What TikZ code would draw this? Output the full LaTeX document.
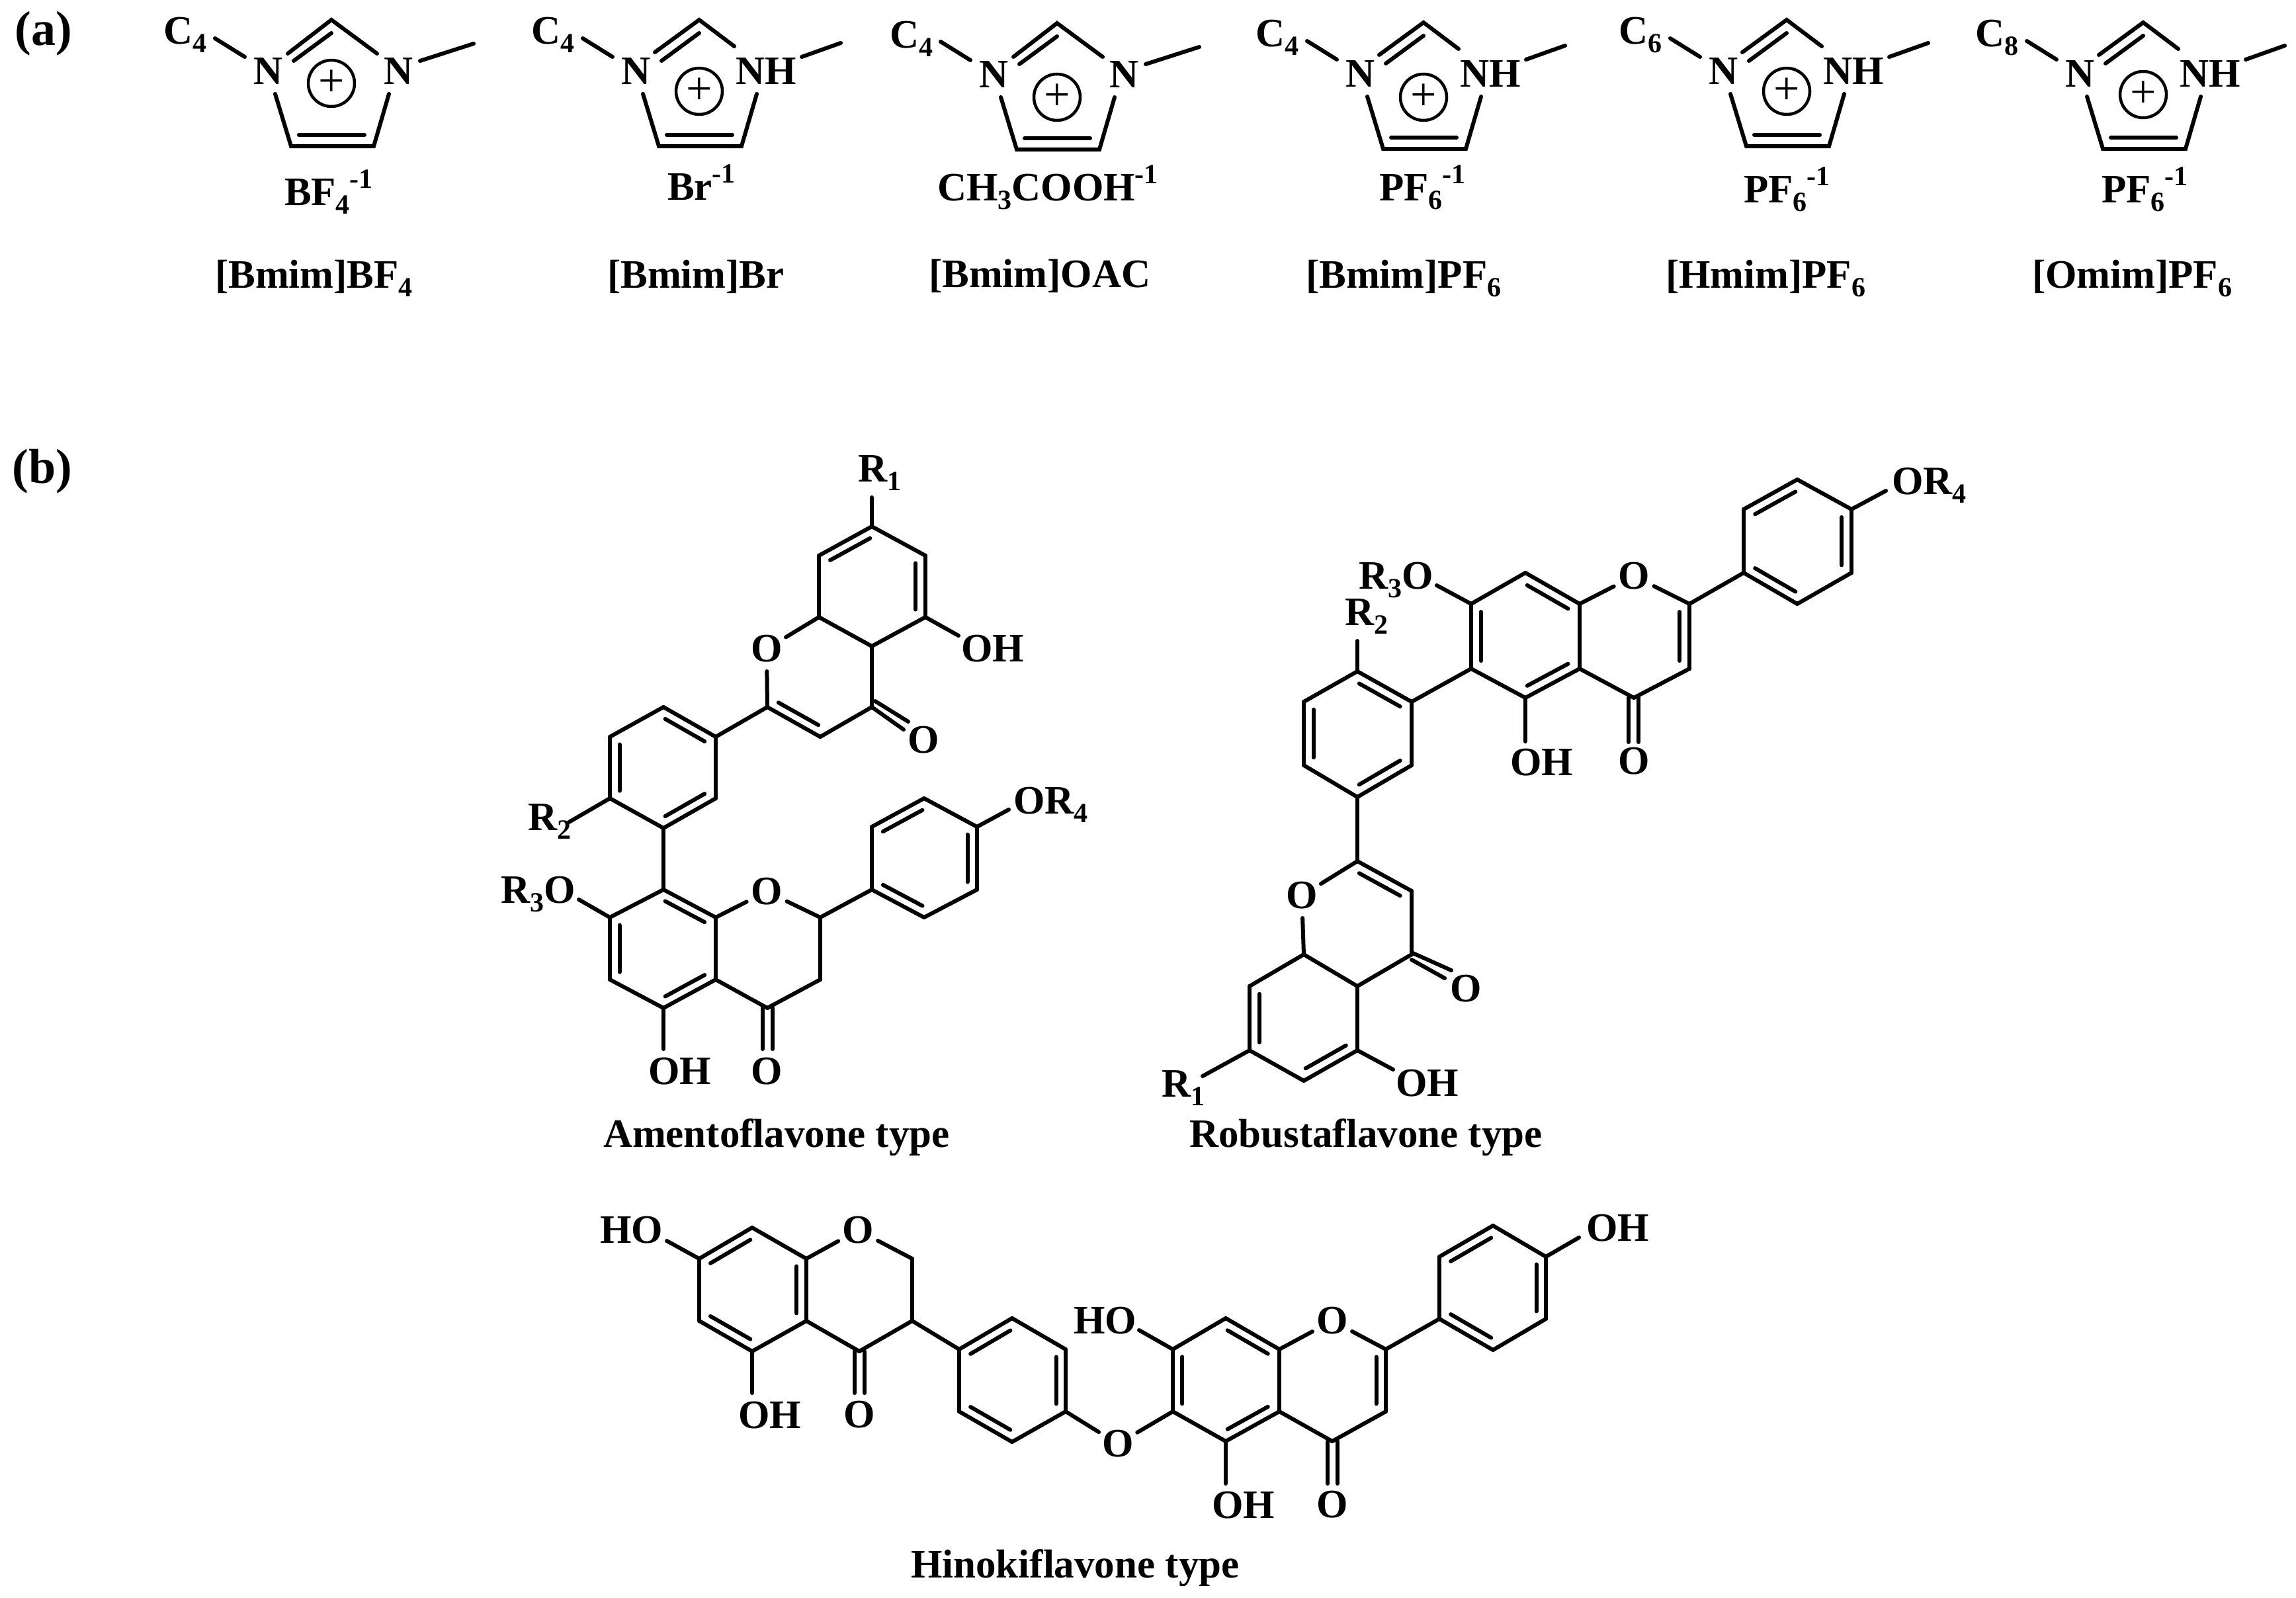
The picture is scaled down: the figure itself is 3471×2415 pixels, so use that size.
\documentclass[tikz,border=0pt]{standalone}
\usepackage{fontspec}
\setmainfont{Liberation Serif}
\usetikzlibrary{calc}
\newcommand{\lo}[1]{\raisebox{-13pt}{\fontsize{42}{42}\selectfont #1}}
\newcommand{\hi}[1]{\raisebox{26pt}{\fontsize{42}{42}\selectfont #1}}
\newcommand{\bnd}[2]{\draw[bond] (#1) -- (#2);}
\newcommand{\dbl}[3]{\draw[bond] (#1) -- (#2);
  \draw[bond] ($(#1)!.04!(#2)!.18!(#3)$) -- ($(#2)!.04!(#1)!.18!(#3)$);}
\newcommand{\pts}[1]{\foreach \nm/\px/\py in {#1} {\coordinate (\nm) at (\px,\py);}}
% prefix, apex x, apex y, circle dy, 0=N / 1=NH at right, C-label (x,y relative), chain digit
\newcommand{\imid}[8]{%
 \begin{scope}[shift={(#2,#3)}]
  \ifnum#5=1
    \def\rlab{NH}\def\rlx{55}\def\rex{53}\def\rey{40}\def\msx{155}\def\msy{56}\def\mex{214}\def\mey{35}\def\ocx{-67}\def\ocy{49}
  \else
    \def\rlab{N}\def\rlx{79}\def\rex{69}\def\rey{51}\def\msx{134}\def\msy{62}\def\mex{215}\def\mey{36}\def\ocx{-66}\def\ocy{51}
  \fi
  \pts{#1ap/0/0,#1bl/-61/191,#1br/64/191,#1lu/-85/112,#1ru/87/112,#1il/-49/174,#1ir/50/174,
       #1dl/-57/62,#1dr/0/20,#1cs/-176/28,#1ce/-131/56}
  \coordinate (#1re) at (\rex,\rey);
  \coordinate (#1ol) at (\ocx,\ocy);
  \coordinate (#1ms) at (\msx,\msy);
  \coordinate (#1me) at (\mex,\mey);
  \draw[bond] (#1ol) -- (#1ap) -- (#1re);
  \bnd{#1dl}{#1dr}
  \draw[bond] (#1lu) -- (#1bl) -- (#1br) -- (#1ru);
  \bnd{#1il}{#1ir}
  \bnd{#1cs}{#1ce}
  \bnd{#1ms}{#1me}
  \node[lab] (#1nl) at (-118,97) {N};
  \node[lab] (#1nr) at (\rlx,97) {\rlab};
  \node[lab] (#1cl) at (#6,#7) {C\lo{#8}};
  \node[plus] (#1pl) at (0,#4) {+};
 \end{scope}}
\tikzset{
 bond/.style={line width=6pt,line cap=round,line join=miter,black},
 lab/.style={inner sep=0pt,outer sep=0pt,anchor=base west,font=\fontsize{61}{70}\bfseries\selectfont,black},
 oat/.style={circle,inner sep=0pt,outer sep=0pt,minimum size=68pt,font=\fontsize{61}{70}\bfseries\selectfont,black},
 plus/.style={draw,circle,line width=4.5pt,inner sep=0pt,minimum size=70pt,font=\fontsize{70}{70}\selectfont},
 tag/.style={inner sep=0pt,outer sep=0pt,anchor=base west,font=\fontsize{74}{80}\bfseries\selectfont,black}
}
\begin{document}
\begin{tikzpicture}[x=1pt,y=-1pt]
\path[fill=white,use as bounding box] (0,0) rectangle (3471,2415);
\node[tag] (taga) at (23,68) {(a)};
\node[tag] (tagb) at (19,730) {(b)};
% ---------- (a)
\imid{ia}{501}{30}{96}{0}{-254}{36}{4}
\imid{ib}{1057}{30}{108}{1}{-254}{36}{4}
\imid{ic}{1598}{35}{112}{0}{-253}{37}{4}
\imid{id}{2152}{34}{113}{1}{-254}{36}{4}
\imid{ie}{2701}{30}{108}{1}{-254}{36}{6}
\imid{if}{3240}{34}{109}{1}{-254}{36}{8}
\node[lab] (ana) at (430,310) {BF\lo{4}\hi{-1}};
\node[lab] (anb) at (1009,302) {Br\hi{-1}};
\node[lab] (anc) at (1417,303) {CH\lo{3}COOH\hi{-1}};
\node[lab] (and) at (2085,303) {PF\lo{6}\hi{-1}};
\node[lab] (ane) at (2636,306) {PF\lo{6}\hi{-1}};
\node[lab] (anf) at (3177,306) {PF\lo{6}\hi{-1}};
\node[lab] (nma) at (325,435) {[Bmim]BF\lo{4}};
\node[lab] (nmb) at (918,435) {[Bmim]Br};
\node[lab] (nmc) at (1404,434) {[Bmim]OAC};
\node[lab] (nmd) at (1974,435) {[Bmim]PF\lo{6}};
\node[lab] (nme) at (2518,435) {[Hmim]PF\lo{6}};
\node[lab] (nmf) at (3072,435) {[Omim]PF\lo{6}};
% ---------- Amentoflavone
\pts{a1/1318/796,a2/1399/840,a3/1399/933,a4/1318/977,a5/1238/933,a6/1238/840,
 r1e/1318/752,ohe/1449/961,
 c2/1160/1069,c3/1240/1114,c4/1318/1069,
 coa/1318/1069,cob/1366/1103,coc/1323/1060,cod/1373/1091,
 b1/1082/1114,b2/1003/1069,b3/922/1114,b4/922/1207,b5/1003/1252,b6/1082/1207,
 r2e/860/1243,
 d1/1003/1345,d2/1082/1387,d3/1082/1481,d4/1003/1524,d5/922/1481,d6/922/1387,
 r3e/875/1360,ohf/1003/1586,
 e1/1240/1387,e2/1240/1481,e3/1160/1524,
 eoa/1153/1524,eob/1153/1586,eoc/1168/1524,eod/1168/1586,
 f1/1318/1345,f2/1397/1387,f3/1477/1345,f4/1477/1250,f5/1397/1207,f6/1318/1250,
 r4e/1525/1224}
\coordinate (ca) at ($(a1)!.5!(a4)$);
\coordinate (cp) at ($(a4)!.5!(c2)$);
\coordinate (cb) at ($(b2)!.5!(b5)$);
\coordinate (cd) at ($(d1)!.5!(d4)$);
\coordinate (cf) at ($(f1)!.5!(f4)$);
\node[oat] (oa) at (1159,981) {O};
\node[oat] (ob) at (1159,1348) {O};
\dbl{a1}{a6}{ca} \dbl{a2}{a3}{ca}
\bnd{a1}{a2} \bnd{a3}{a4} \bnd{a4}{a5} \bnd{a5}{a6} \bnd{a1}{r1e} \bnd{a3}{ohe}
\bnd{a5}{oa} \bnd{oa}{c2} \dbl{c2}{c3}{cp} \bnd{c3}{c4} \bnd{c4}{a4}
\bnd{coa}{cob} \bnd{coc}{cod} \bnd{b1}{c2}
\dbl{b1}{b2}{cb} \dbl{b3}{b4}{cb} \dbl{b5}{b6}{cb}
\bnd{b2}{b3} \bnd{b4}{b5} \bnd{b6}{b1} \bnd{b4}{r2e} \bnd{b5}{d1}
\dbl{d1}{d2}{cd} \dbl{d3}{d4}{cd} \dbl{d5}{d6}{cd}
\bnd{d2}{d3} \bnd{d4}{d5} \bnd{d6}{d1} \bnd{d6}{r3e} \bnd{d4}{ohf}
\bnd{d2}{ob} \bnd{ob}{e1} \bnd{e1}{e2} \bnd{e2}{e3} \bnd{e3}{d3}
\bnd{eoa}{eob} \bnd{eoc}{eod} \bnd{e1}{f1}
\dbl{f1}{f2}{cf} \dbl{f3}{f4}{cf} \dbl{f5}{f6}{cf}
\bnd{f2}{f3} \bnd{f4}{f5} \bnd{f6}{f1} \bnd{f4}{r4e}
\node[lab] (tr1) at (1297,728) {R\lo{1}};
\node[lab] (toh) at (1453,1000) {OH};
\node[oat] (oc) at (1396,1119) {O};
\node[lab] (tr2) at (798,1255) {R\lo{2}};
\node[lab] (tr3) at (757,1365) {R\lo{3}O};
\node[lab] (tr4) at (1532,1230) {OR\lo{4}};
\node[lab] (tohb) at (980,1639) {OH};
\node[oat] (od) at (1159,1620) {O};
\node[lab] (tam) at (912,1734) {Amentoflavone type};
% ---------- Robustaflavone
\pts{g1/2717/725,g2/2799/770,g3/2799/866,g4/2717/913,g5/2636/866,g6/2636/770,
 gor/2851/742,h/2554/913,i/2554/1011,j/2470/1055,
 k1/2388/913,k2/2388/1011,l1/2306/866,l2/2306/1055,m1/2224/913,m2/2224/1011,
 r3f/2172/885,ohg/2306/1121,
 joa/2462/1055,job/2462/1122,joc/2477/1055,jod/2477/1122,
 n1/2134/1061,n2/2052/1015,n3/1971/1061,n4/1971/1157,n5/2052/1205,n6/2134/1157,
 r2f/2052/969,p/2052/1302,q/2134/1347,r/2134/1443,s/1971/1443,t/2052/1491,
 u/1889/1491,v/1889/1588,w/1971/1634,x/2052/1588,
 roa/2136/1441,rob/2194/1467,roc/2134/1451,rod/2184/1479,
 r1f/1818/1627,ohh/2106/1617}
\coordinate (cg) at ($(g1)!.5!(g4)$);
\coordinate (ch) at ($(k1)!.5!(i)$);
\coordinate (ck) at ($(k1)!.5!(m2)$);
\coordinate (cn) at ($(n1)!.5!(n4)$);
\coordinate (cq) at ($(q)!.5!(s)$);
\coordinate (cs) at ($(s)!.5!(w)$);
\node[oat] (oe) at (2470,871) {O};
\node[oat] (of) at (1968,1354) {O};
\dbl{g1}{g6}{cg} \dbl{g2}{g3}{cg} \dbl{g4}{g5}{cg}
\bnd{g1}{g2} \bnd{g3}{g4} \bnd{g5}{g6} \bnd{g2}{gor} \bnd{g5}{h}
\bnd{h}{oe} \bnd{oe}{k1} \dbl{h}{i}{ch} \bnd{i}{j} \bnd{j}{k2}
\dbl{k1}{l1}{ck} \dbl{m1}{m2}{ck} \dbl{l2}{k2}{ck}
\bnd{k1}{k2} \bnd{l1}{m1} \bnd{m2}{l2} \bnd{m1}{r3f} \bnd{l2}{ohg}
\bnd{joa}{job} \bnd{joc}{jod} \bnd{m2}{n1}
\dbl{n1}{n2}{cn} \dbl{n3}{n4}{cn} \dbl{n5}{n6}{cn}
\bnd{n2}{n3} \bnd{n4}{n5} \bnd{n6}{n1} \bnd{n2}{r2f} \bnd{n5}{p}
\dbl{p}{q}{cq} \bnd{q}{r} \bnd{p}{of} \bnd{of}{s} \bnd{s}{t} \bnd{r}{t}
\bnd{s}{u} \dbl{u}{v}{cs} \bnd{v}{w} \dbl{w}{x}{cs} \bnd{x}{t}
\bnd{roa}{rob} \bnd{roc}{rod} \bnd{v}{r1f} \bnd{x}{ohh}
\node[lab] (tr4b) at (2860,747) {OR\lo{4}};
\node[lab] (tr3b) at (2054,890) {R\lo{3}O};
\node[lab] (tr2b) at (2033,945) {R\lo{2}};
\node[lab] (tohc) at (2283,1172) {OH};
\node[oat] (og) at (2470,1151) {O};
\node[oat] (oh) at (2216,1495) {O};
\node[lab] (tr1b) at (1756,1658) {R\lo{1}};
\node[lab] (tohd) at (2110,1657) {OH};
\node[lab] (tro) at (1798,1734) {Robustaflavone type};
% ---------- Hinokiflavone
\pts{aa1/1137/1856,aa2/1219/1903,aa3/1219/1997,aa4/1137/2043,aa5/1057/1997,aa6/1057/1903,
 hoe/1008/1876,bb1/1379/1903,bb2/1379/1997,bb3/1299/2043,
 boa/1292/2043,bob/1292/2106,boc/1307/2043,bod/1307/2106,ohi/1137/2106,
 cc1/1450/2040,cc2/1530/1993,cc3/1611/2040,cc4/1611/2134,cc5/1530/2180,cc6/1450/2134,
 dd1/1773/2134,dd2/1773/2040,dd3/1853/1993,dd4/1934/2040,dd5/1934/2134,dd6/1853/2179,
 hof/1722/2011,ohj/1853/2243,
 ee1/2095/2040,ee2/2095/2134,ee3/2014/2179,
 eea/2007/2179,eeb/2007/2243,eec/2022/2179,eed/2022/2243,
 ff1/2176/1994,ff2/2257/2041,ff3/2337/1994,ff4/2337/1900,ff5/2257/1853,ff6/2176/1900,
 ohk/2387/1871}
\coordinate (caa) at ($(aa1)!.5!(aa4)$);
\coordinate (ccc) at ($(cc1)!.5!(cc4)$);
\coordinate (cdd) at ($(dd3)!.5!(dd6)$);
\coordinate (cee) at ($(ee1)!.5!(dd5)$);
\coordinate (cff) at ($(ff1)!.5!(ff4)$);
\node[oat] (oi) at (1297,1860) {O};
\node[oat] (oj) at (1690,2183) {O};
\node[oat] (ok) at (2014,1997) {O};
\dbl{aa1}{aa6}{caa} \dbl{aa2}{aa3}{caa} \dbl{aa4}{aa5}{caa}
\bnd{aa1}{aa2} \bnd{aa3}{aa4} \bnd{aa5}{aa6} \bnd{aa6}{hoe} \bnd{aa4}{ohi}
\bnd{aa2}{oi} \bnd{oi}{bb1} \bnd{bb1}{bb2} \bnd{bb2}{bb3} \bnd{bb3}{aa3}
\bnd{boa}{bob} \bnd{boc}{bod} \bnd{bb2}{cc1}
\dbl{cc1}{cc2}{ccc} \dbl{cc3}{cc4}{ccc} \dbl{cc5}{cc6}{ccc}
\bnd{cc2}{cc3} \bnd{cc4}{cc5} \bnd{cc6}{cc1} \bnd{cc4}{oj} \bnd{oj}{dd1}
\dbl{dd1}{dd2}{cdd} \dbl{dd3}{dd4}{cdd} \dbl{dd5}{dd6}{cdd}
\bnd{dd2}{dd3} \bnd{dd4}{dd5} \bnd{dd6}{dd1} \bnd{dd2}{hof} \bnd{dd6}{ohj}
\bnd{dd4}{ok} \bnd{ok}{ee1} \dbl{ee1}{ee2}{cee} \bnd{ee2}{ee3} \bnd{ee3}{dd5}
\bnd{eea}{eeb} \bnd{eec}{eed} \bnd{ee1}{ff1}
\dbl{ff1}{ff2}{cff} \dbl{ff3}{ff4}{cff} \dbl{ff5}{ff6}{cff}
\bnd{ff2}{ff3} \bnd{ff4}{ff5} \bnd{ff6}{ff1} \bnd{ff4}{ohk}
\node[lab] (thoa) at (907,1879) {HO};
\node[lab] (toha) at (1116,2159) {OH};
\node[oat] (ol) at (1299,2139) {O};
\node[lab] (thob) at (1623,2016) {HO};
\node[lab] (tohe) at (1832,2295) {OH};
\node[oat] (om) at (2014,2275) {O};
\node[lab] (tohf) at (2398,1876) {OH};
\node[lab] (thi) at (1377,2385) {Hinokiflavone type};
\end{tikzpicture}
\end{document}
